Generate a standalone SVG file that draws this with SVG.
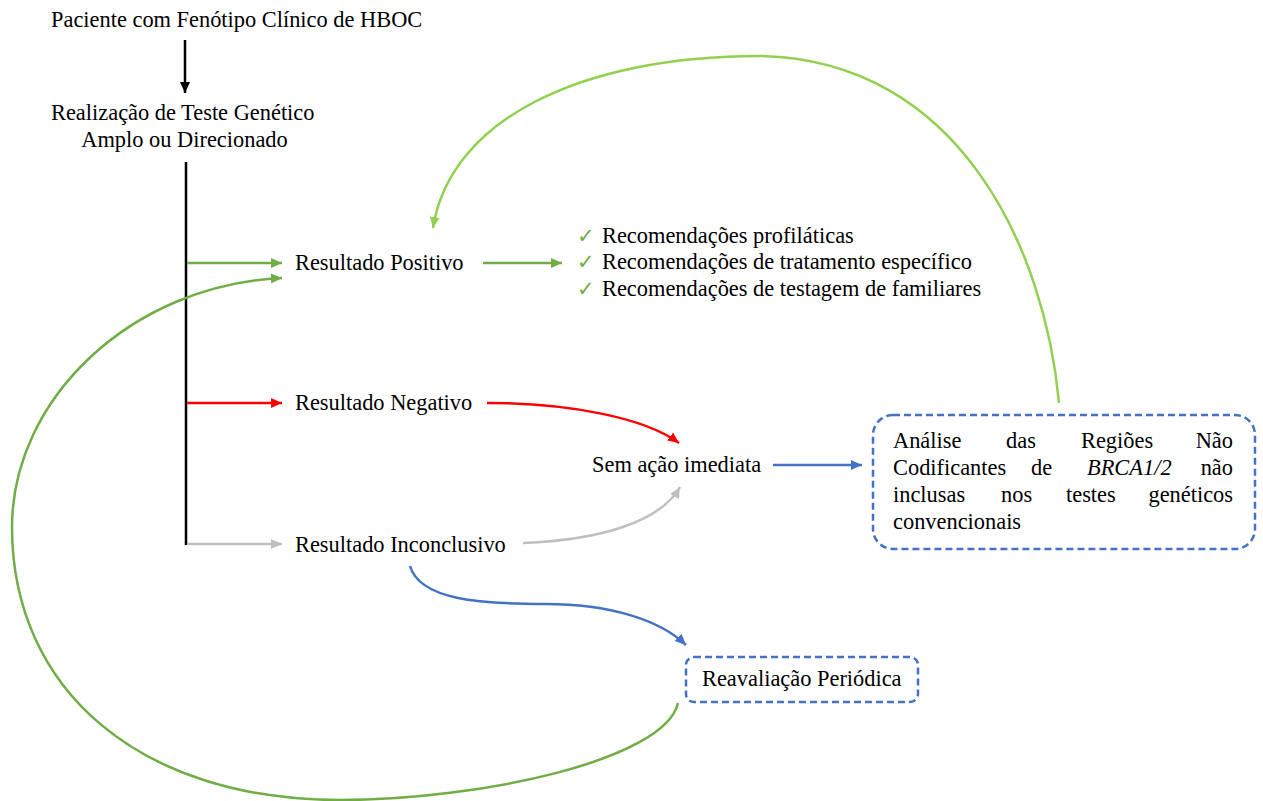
<svg xmlns="http://www.w3.org/2000/svg" width="1263" height="801" viewBox="0 0 1263 801">
<style>
.t{font-family:'Liberation Serif','DejaVu Serif',serif;font-size:22.4px;fill:#000}
.c{fill:none;stroke-width:2.5}
.k{stroke:#000}
.g{stroke:#70AD47}
.lg{stroke:#92D050}
.r{stroke:#FF0000}
.gr{stroke:#BFBFBF}
.b{stroke:#4472C4}
.box{fill:none;stroke:#4472C4;stroke-width:2.5;stroke-dasharray:7 4}
.chk{font-family:'DejaVu Sans',sans-serif;font-size:21px;fill:#70AD47}
</style>
<defs>
<marker id="mk" markerUnits="userSpaceOnUse" markerWidth="12" markerHeight="12" refX="11" refY="5" orient="auto"><path d="M0,0 L11,5 L0,10 Z" fill="#000"/></marker>
<marker id="mg" markerUnits="userSpaceOnUse" markerWidth="12" markerHeight="12" refX="11" refY="5" orient="auto"><path d="M0,0 L11,5 L0,10 Z" fill="#70AD47"/></marker>
<marker id="mlg" markerUnits="userSpaceOnUse" markerWidth="12" markerHeight="12" refX="11" refY="5" orient="auto"><path d="M0,0 L11,5 L0,10 Z" fill="#92D050"/></marker>
<marker id="mr" markerUnits="userSpaceOnUse" markerWidth="12" markerHeight="12" refX="11" refY="5" orient="auto"><path d="M0,0 L11,5 L0,10 Z" fill="#FF0000"/></marker>
<marker id="mgr" markerUnits="userSpaceOnUse" markerWidth="12" markerHeight="12" refX="11" refY="5" orient="auto"><path d="M0,0 L11,5 L0,10 Z" fill="#BFBFBF"/></marker>
<marker id="mb" markerUnits="userSpaceOnUse" markerWidth="12" markerHeight="12" refX="11" refY="5" orient="auto"><path d="M0,0 L11,5 L0,10 Z" fill="#4472C4"/></marker>
</defs>

<g id="connectors">
<path class="c k" d="M185,40 L185,93" marker-end="url(#mk)"/>
<path class="c k" d="M186,162 L186,545"/>
<path class="c g" d="M187,263 L282,263" marker-end="url(#mg)"/>
<path class="c r" d="M187,403 L282,403" marker-end="url(#mr)"/>
<path class="c gr" d="M187,544 L282,544" marker-end="url(#mgr)"/>
<path class="c g" d="M483,263 L562,263" marker-end="url(#mg)"/>
<path class="c r" d="M487,403 C570,403 645,418 679,443" marker-end="url(#mr)"/>
<path class="c gr" d="M523,543 C600,540 660,522 680,487" marker-end="url(#mgr)"/>
<path class="c b" d="M773,465 L862,465" marker-end="url(#mb)"/>
<path class="c b" d="M410,566 C420,600 480,604 545,604 C610,604 660,620 686,645" marker-end="url(#mb)"/>
<path class="c lg" d="M1059,403 C1045,250 960,60 760,56 C580,56 450,120 433,228" marker-end="url(#mlg)"/>
<path class="c g" d="M678,703 C665,760 480,800 340,800 C140,800 12,690 12,527 C12,400 130,285 282,278" marker-end="url(#mg)"/>
</g>

<g id="n-paciente"><text class="t" x="51" y="27">Paciente com Fenótipo Clínico de HBOC</text></g>
<g id="n-teste">
<text class="t" x="51" y="120">Realização de Teste Genético</text>
<text class="t" x="184.5" y="147" text-anchor="middle">Amplo ou Direcionado</text>
</g>
<g id="n-positivo"><text class="t" x="295" y="270">Resultado Positivo</text></g>
<g id="n-recomendacoes">
<text class="chk" x="577" y="243">✓</text>
<text class="t" x="602" y="243">Recomendações profiláticas</text>
<text class="chk" x="577" y="269">✓</text>
<text class="t" x="602" y="269">Recomendações de tratamento específico</text>
<text class="chk" x="577" y="296">✓</text>
<text class="t" x="602" y="296">Recomendações de testagem de familiares</text>
</g>
<g id="n-negativo"><text class="t" x="295" y="410">Resultado Negativo</text></g>
<g id="n-sem-acao"><text class="t" x="592" y="472">Sem ação imediata</text></g>
<g id="n-inconclusivo"><text class="t" x="295" y="552">Resultado Inconclusivo</text></g>
<g id="n-analise">
<rect class="box" x="873" y="415" width="382" height="134" rx="20"/>
<text class="t" x="893" y="448">Análise</text>
<text class="t" x="1006" y="448">das</text>
<text class="t" x="1081" y="448">Regiões</text>
<text class="t" x="1233" y="448" text-anchor="end">Não</text>
<text class="t" x="893" y="475">Codificantes</text>
<text class="t" x="1031" y="475">de</text>
<text class="t" x="1087" y="475" font-style="italic">BRCA1/2</text>
<text class="t" x="1233" y="475" text-anchor="end">não</text>
<text class="t" x="893" y="502">inclusas</text>
<text class="t" x="1001" y="502">nos</text>
<text class="t" x="1066" y="502">testes</text>
<text class="t" x="1233" y="502" text-anchor="end">genéticos</text>
<text class="t" x="893" y="529">convencionais</text>
</g>
<g id="n-reavaliacao">
<rect class="box" x="686" y="657" width="232" height="45" rx="8"/>
<text class="t" x="702" y="686">Reavaliação Periódica</text>
</g>
</svg>
